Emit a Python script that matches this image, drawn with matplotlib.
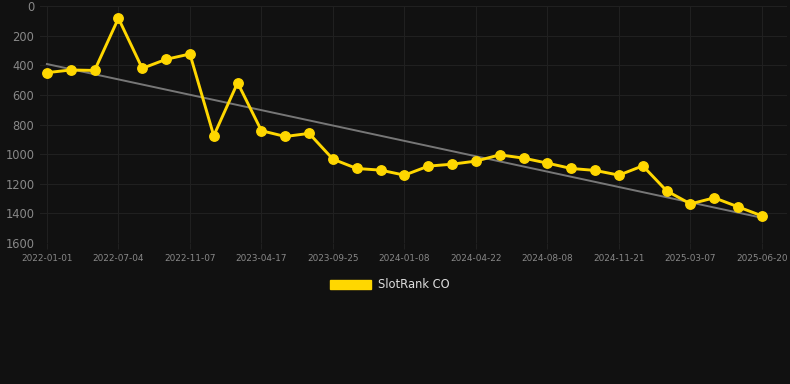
import matplotlib
matplotlib.use("Agg")
import matplotlib.pyplot as plt
from matplotlib.patches import Patch
import numpy as np

# rank per period (lower = better, y axis inverted)
rank = [450, 432, 435, 83, 421, 360, 324, 876, 518, 842,
        881, 860, 1034, 1097, 1108, 1142, 1081, 1068, 1047, 1005,
        1027, 1061, 1097, 1110, 1142, 1079, 1248, 1336, 1295, 1356,
        1417]
tick_labels = ["2022-01-01", "2022-07-04", "2022-11-07", "2023-04-17", "2023-09-25",
               "2024-01-08", "2024-04-22", "2024-08-08", "2024-11-21", "2025-03-07",
               "2025-06-20"]
series_name = "SlotRank CO"

BG = "#111111"
GOLD = "#FFD700"

x = np.arange(len(rank))
fig = plt.figure(figsize=(7.9, 3.84), dpi=100, facecolor=BG)
ax = fig.add_axes([40 / 790, 1 - 243 / 384, 747 / 790, 237 / 384], facecolor=BG)

# linear trend
k, b = np.polyfit(x, rank, 1)
ax.plot(x, k * x + b, color="#777777", linewidth=1.4, zorder=2)

ax.plot(x, rank, color=GOLD, linewidth=2.1, marker="o", markersize=6.8, zorder=3)

ax.set_ylim(1600, 0)
ax.set_yticks(range(0, 1601, 200))
ax.set_xlim(-0.29, 31.05)
ax.set_xticks(x[::3])
ax.set_xticklabels(tick_labels)

ax.grid(color="#202020", linewidth=0.8)
for s in ax.spines.values():
    s.set_visible(False)
ax.tick_params(axis="y", length=0, pad=4, labelsize=8.3, labelcolor="#888888")
ax.tick_params(axis="x", length=4, color="#202020", pad=4, labelsize=6.4, labelcolor="#888888")

fig.legend(handles=[Patch(color=GOLD, label=series_name)], loc="center",
           bbox_to_anchor=(390 / 790, 1 - 285 / 384), frameon=False,
           fontsize=8.3, labelcolor="#dddddd", handlelength=3.6, handleheight=0.9,
           handletextpad=0.6)

fig.savefig("out.png", dpi=100, facecolor=BG)
